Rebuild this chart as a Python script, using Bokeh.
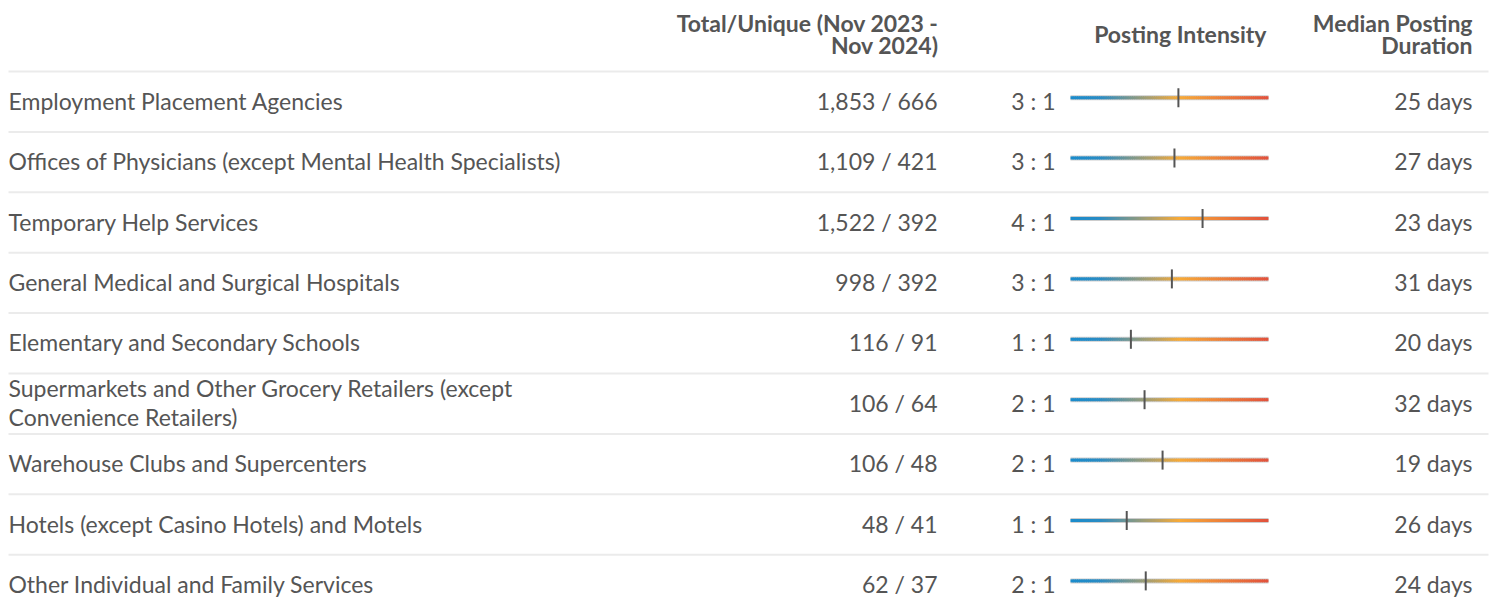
import numpy as np
from bokeh.plotting import figure
from bokeh.models import Range1d, ColumnDataSource
from bokeh.core.properties import value
from bokeh.embed import file_html
from bokeh.resources import INLINE

# ---------------- data ----------------
industries = [
    "Employment Placement Agencies",
    "Offices of Physicians (except Mental Health Specialists)",
    "Temporary Help Services",
    "General Medical and Surgical Hospitals",
    "Elementary and Secondary Schools",
    "Supermarkets and Other Grocery Retailers (except\nConvenience Retailers)",
    "Warehouse Clubs and Supercenters",
    "Hotels (except Casino Hotels) and Motels",
    "Other Individual and Family Services",
]
total_postings = [1853, 1109, 1522, 998, 116, 106, 106, 48, 62]
unique_postings = [666, 421, 392, 392, 91, 64, 48, 41, 37]
intensity_ratio = [3, 3, 4, 3, 1, 2, 2, 1, 2]
intensity_score = [0.545, 0.525, 0.667, 0.512, 0.305, 0.374, 0.465, 0.284, 0.380]
median_days = [25, 27, 23, 31, 20, 32, 19, 26, 24]

header_total = ["Total/Unique (Nov 2023 -", "Nov 2024)"]
header_intensity = ["Posting Intensity"]
header_duration = ["Median Posting", "Duration"]

# gradient colour stops for intensity bar
grad_stops = [0.0, 0.15, 0.55, 1.0]
grad_colors = ["#1a8ccc", "#2a8cc4", "#f7aa38", "#e2513c"]

# ---------------- layout ----------------
W, H = 1489, 603
ROW = 60.4
TOP = -101.2 / ROW
FONT = value("Lato")
TXT = "#555555"
FS = "23px"

p = figure(width=W, height=H, x_range=Range1d(0, W),
           y_range=Range1d(TOP + H / ROW, TOP),
           x_axis_location=None, y_axis_location=None,
           output_backend="svg", toolbar_location=None, min_border=0)
p.grid.visible = False
p.outline_line_color = None
p.background_fill_color = "white"
p.border_fill_color = "white"

bar_x0, bar_w = 1070, 198
p.extra_x_ranges = {"bar": Range1d(-bar_x0 / bar_w, (W - bar_x0) / bar_w)}

n = len(industries)
rows = np.arange(n)

# divider lines
div_y = list(np.arange(-1, n) + 0.5)
p.segment(x0=8, x1=1488, y0=div_y, y1=div_y, line_color="#ebebeb", line_width=2)

# headers
def hy(px):
    return (px - 101.2) / ROW

hdr = dict(text_align="right", text_baseline="middle", text_font=FONT,
           text_font_size=FS, text_font_style="bold", text_color=TXT)
p.text(x=[938, 938], y=[hy(22.5), hy(44.5)], text=header_total, **hdr)
p.text(x=[1266], y=[hy(33.5)], text=header_intensity, **hdr)
p.text(x=[1472, 1472], y=[hy(22.5), hy(44.5)], text=header_duration, **hdr)

src = ColumnDataSource(dict(
    y=rows - 1 / ROW,
    yb=rows - 4 / ROW,
    name=industries,
    tu=[f"{t:,} / {u:,}" for t, u in zip(total_postings, unique_postings)],
    ratio=[f"{r} : 1" for r in intensity_ratio],
    score=intensity_score,
    days=[f"{d} days" for d in median_days],
))

common = dict(text_baseline="middle", text_font=FONT, text_font_size=FS,
              text_color=TXT, source=src)
p.text(x=8, y="y", text="name", text_align="left", text_line_height=1.02, **common)
p.text(x=937, y="y", text="tu", text_align="right", **common)
p.text(x=1055, y="y", text="ratio", text_align="right", **common)
p.text(x=1472, y="y", text="days", text_align="right", **common)

# gradient bars
def hex2rgb(h):
    return np.array([int(h[i:i + 2], 16) for i in (1, 3, 5)], dtype=float)

stops_rgb = np.array([hex2rgb(c) for c in grad_colors])
N = 90
t = (np.arange(N) + 0.5) / N
cols = []
for tt in t:
    rgb = [np.interp(tt, grad_stops, stops_rgb[:, j]) for j in range(3)]
    cols.append("#%02x%02x%02x" % tuple(int(round(v)) for v in rgb))

seg = dict(x0=[], x1=[], y=[], c=[])
for i in rows:
    for k in range(N):
        seg["x0"].append(k / N)
        seg["x1"].append(min((k + 1.4) / N, 1.0))
        seg["y"].append(i - 4 / ROW)
        seg["c"].append(cols[k])
segsrc = ColumnDataSource(seg)

p.segment(x0=0, x1=1, y0="yb", y1="yb", source=src, line_width=5,
          line_color="#cdcdcd", x_range_name="bar")
p.segment(x0="x0", x1="x1", y0="y", y1="y", source=segsrc, line_width=3,
          line_color="c", x_range_name="bar")

p.scatter(x="score", y="yb", source=src, marker="dash", angle=np.pi / 2,
          size=19, line_width=2, line_color="#555555", x_range_name="bar")

open("out.html", "w").write(file_html(p, INLINE))
